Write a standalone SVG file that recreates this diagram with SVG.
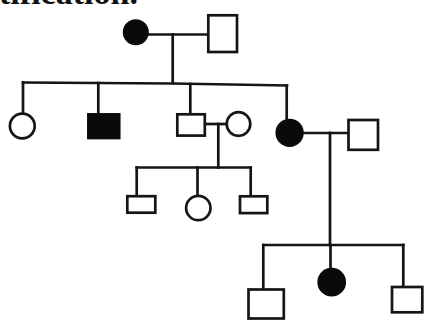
<svg xmlns="http://www.w3.org/2000/svg" width="426" height="320" viewBox="0 0 426 320">
<style>
.ln{stroke:#151515;stroke-width:2.7;fill:none;stroke-linecap:square}
.open{fill:#fff;stroke:#151515;stroke-width:2.7}
.aff{fill:#0a0a0a;stroke:#0a0a0a;stroke-width:1.5}
.cap{font-family:"Liberation Serif","DejaVu Serif",serif;font-weight:bold;font-size:33px;fill:#111}
</style>
<rect width="426" height="320" fill="#fff"/>
<text class="cap" x="-1" y="4" textLength="139" lengthAdjust="spacingAndGlyphs">tification.</text>
<g id="connectors">
<line class="ln" x1="148" y1="34.5" x2="207" y2="34.5"/>
<line class="ln" x1="172.7" y1="34.5" x2="172.7" y2="83"/>
<polyline class="ln" points="23,82.5 172.7,83.5 287,85.5"/>
<line class="ln" x1="23" y1="82.5" x2="23" y2="112"/>
<line class="ln" x1="98.3" y1="83" x2="98.3" y2="113"/>
<line class="ln" x1="190.3" y1="84" x2="190.3" y2="113"/>
<line class="ln" x1="286.7" y1="85.5" x2="286.7" y2="118"/>
<line class="ln" x1="206" y1="124" x2="226" y2="124"/>
<line class="ln" x1="218.3" y1="124" x2="218.3" y2="167.5"/>
<line class="ln" x1="136.7" y1="167.5" x2="250.7" y2="167.5"/>
<line class="ln" x1="136.7" y1="167.5" x2="136.7" y2="195"/>
<line class="ln" x1="197.5" y1="167.5" x2="197.5" y2="195"/>
<line class="ln" x1="250.7" y1="167.5" x2="250.7" y2="195"/>
<line class="ln" x1="303" y1="133" x2="347" y2="133"/>
<line class="ln" x1="330" y1="133" x2="330" y2="245"/>
<line class="ln" x1="263.3" y1="245" x2="403.3" y2="245"/>
<line class="ln" x1="263.3" y1="245" x2="263.3" y2="288"/>
<line class="ln" x1="330.5" y1="245" x2="330.5" y2="268"/>
<line class="ln" x1="403.3" y1="245" x2="403.3" y2="286"/>
</g>
<g id="I-1"><circle class="aff" cx="135.8" cy="32.2" r="12.3"/></g>
<g id="I-2"><rect class="open" x="208.3" y="15.3" width="28.7" height="36.7"/></g>
<g id="II-1"><circle class="open" cx="22.3" cy="126" r="12.4"/></g>
<g id="II-2"><rect class="aff" x="87.8" y="113.8" width="32" height="24.8"/></g>
<g id="II-3"><rect class="open" x="177.3" y="114.3" width="27.5" height="21.3"/></g>
<g id="II-4"><circle class="open" cx="238.5" cy="124" r="11.8"/></g>
<g id="II-5"><circle class="aff" cx="289.6" cy="132.8" r="13.4"/></g>
<g id="II-6"><rect class="open" x="348.5" y="120" width="29.5" height="29.8"/></g>
<g id="III-1"><rect class="open" x="127.3" y="196.2" width="28" height="16.5"/></g>
<g id="III-2"><circle class="open" cx="198.3" cy="208" r="12.2"/></g>
<g id="III-3"><rect class="open" x="240" y="196.3" width="27.3" height="16.8"/></g>
<g id="III-4"><rect class="open" x="248.5" y="289.5" width="35.3" height="29"/></g>
<g id="III-5"><circle class="aff" cx="331.7" cy="282.2" r="13.6"/></g>
<g id="III-6"><rect class="open" x="392" y="287" width="30.3" height="25.3"/></g>
</svg>
